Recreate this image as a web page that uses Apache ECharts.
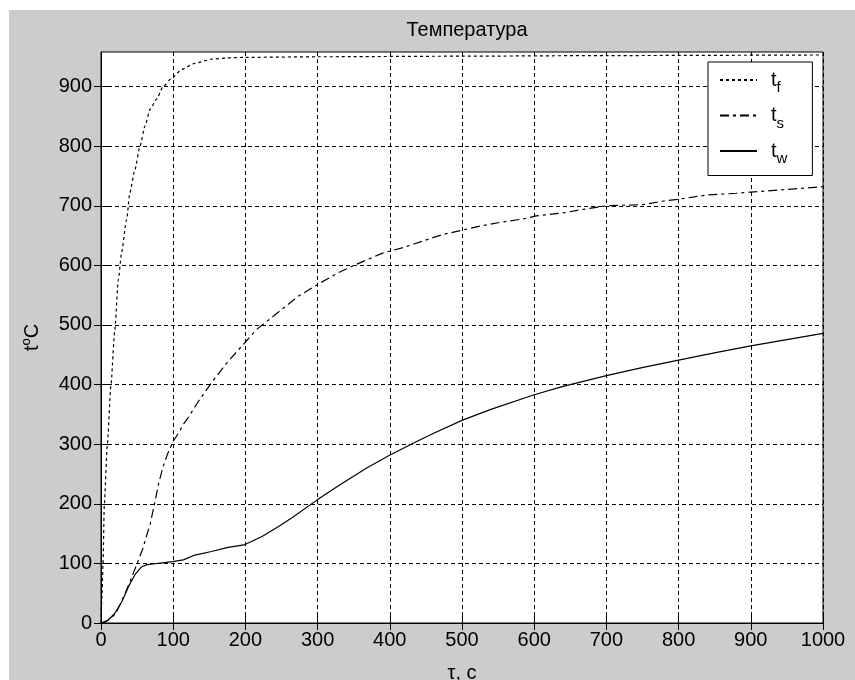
<!DOCTYPE html>
<html>
<head>
<meta charset="utf-8">
<script src="https://cdn.jsdelivr.net/npm/echarts@6/dist/echarts.min.js"></script>
<style>html,body{margin:0;padding:0;background:#fff;}#c{width:855px;height:680px;}</style>
</head>
<body>
<div id="c"></div>
<script>
// ---- data ----
var tfTime = [0, 1.5, 2.8, 4.6, 8.8, 13.8, 19, 24, 28.6, 35.5, 40, 47, 54, 61, 68, 77, 86, 98, 112, 130, 153, 175, 198, 300, 500, 700, 1000];
var tfTemp = [0, 50, 100, 200, 300, 400, 490, 576, 622, 677, 722, 761, 800, 834, 862, 879, 900, 914, 929, 939, 946, 948, 949, 950, 951, 952, 953];

var tsTime = [0, 10, 20, 28, 36, 43, 50, 58, 64, 68, 75, 80, 86, 92, 100, 107, 114, 121, 135, 153, 174, 199, 215, 239, 273, 300, 329, 354, 391, 419, 446, 474, 500, 525, 557, 585, 603, 640, 668, 700, 751, 779, 800, 839, 880, 900, 945, 1000];
var tsTemp = [0, 5, 15, 35, 57, 78, 100, 125, 150, 165, 205, 235, 262, 283, 305, 318, 333, 345, 372, 403, 436, 470, 492, 515, 548, 568, 588, 602, 621, 630, 641, 652, 659, 666, 673, 678, 683, 688, 694, 700, 702, 708, 711, 718, 721, 723, 727, 732];

var twTime = [0, 5, 10, 19, 29, 38, 47, 56, 64, 72, 85, 99, 114, 130, 153, 176, 198, 223, 246, 266, 300, 331, 368, 399, 433, 460, 500, 539, 600, 640, 700, 751, 800, 853, 900, 1000];
var twTemp = [0, 1, 5, 16, 36, 61, 81, 94, 98, 99, 101, 103, 106, 114, 120, 127, 131, 145, 162, 178, 207, 232, 260, 281, 302, 318, 340, 358, 383, 397, 415, 429, 441, 454, 465, 486];

var yTicks = [0, 100, 200, 300, 400, 500, 600, 700, 800, 900];
var seriesNames = ['tf', 'ts', 'tw'];
var titleText = 'Температура';
var xName = 'τ, c';

function zip(a, b) { return a.map(function (v, i) { return [v, b[i]]; }); }

var FONT = 'Liberation Sans';
var chart = echarts.init(document.getElementById('c'));

function axisBase(extra) {
  var o = {
    type: 'value',
    axisLine: { show: true, lineStyle: { color: '#000', width: 1 } },
    axisTick: { show: true, inside: true, length: 7, lineStyle: { color: '#000' } },
    axisLabel: { color: '#000', fontFamily: FONT, fontSize: 20 },
    splitLine: { show: false }
  };
  for (var k in extra) o[k] = extra[k];
  return o;
}

var gridLine = { show: true, lineStyle: { color: '#000', width: 1, type: [4, 3] } };
var yTick = { show: true, inside: true, length: 7, lineStyle: { color: '#000' }, customValues: yTicks };

chart.setOption({
  backgroundColor: '#fff',
  animation: false,
  graphic: {
    elements: [{ type: 'rect', z: -100, shape: { x: 9, y: 10, width: 846, height: 670 }, style: { fill: '#cccccc' }, silent: true }]
  },
  title: {
    text: titleText, left: 462, top: 15, textAlign: 'center',
    textStyle: { color: '#000', fontFamily: FONT, fontSize: 20, fontWeight: 'normal' }
  },
  grid: { left: 101, top: 52, right: 32, bottom: 57, show: true, backgroundColor: '#fff', borderColor: '#000', borderWidth: 1, containLabel: false, outerBoundsMode: 'none' },
  legend: {
    left: 708, top: 62, orient: 'vertical',
    padding: [8, 25, 9, 11],
    itemWidth: 37, itemHeight: 20, itemGap: 10,
    backgroundColor: '#fff', borderColor: '#000', borderWidth: 1,
    itemStyle: { opacity: 0 },
    data: seriesNames,
    formatter: function (n) { return '{t|t}{s|' + n.slice(1) + '}'; },
    textStyle: {
      color: '#000', fontFamily: FONT, fontSize: 20,
      rich: {
        t: { fontFamily: FONT, fontSize: 20, color: '#000', padding: [0, 0, 0, 9] },
        s: { fontFamily: FONT, fontSize: 15, color: '#000', padding: [16, 0, 0, 0] }
      }
    }
  },
  xAxis: [
    axisBase({
      min: 0, max: 1000, interval: 100, position: 'bottom',
      axisLabel: { color: '#000', fontFamily: FONT, fontSize: 20, margin: 7, formatter: function (v) { return String(v); } },
      splitLine: gridLine,
      name: xName, nameLocation: 'middle', nameGap: 40,
      nameTextStyle: { color: '#000', fontFamily: FONT, fontSize: 20 }
    }),
    axisBase({ min: 0, max: 1000, interval: 100, position: 'top', axisLine: { show: false }, axisLabel: { show: false } })
  ],
  yAxis: [
    axisBase({
      min: 0, max: 958, interval: 100, position: 'left',
      axisTick: yTick,
      axisLabel: { color: '#000', fontFamily: FONT, fontSize: 20, margin: 9, showMaxLabel: false, formatter: function (v) { return String(v); } },
      splitLine: gridLine,
      name: '{a|t}{b|o}{a|C}', nameLocation: 'middle', nameGap: 56,
      nameTextStyle: {
        color: '#000', fontFamily: FONT, fontSize: 20,
        rich: {
          a: { fontFamily: FONT, fontSize: 20, color: '#000' },
          b: { fontFamily: FONT, fontSize: 13, color: '#000', padding: [0, 0, 12, 0] }
        }
      }
    }),
    axisBase({ min: 0, max: 958, interval: 100, position: 'right', axisTick: yTick, axisLine: { show: false }, axisLabel: { show: false } })
  ],
  series: [
    { name: seriesNames[0], type: 'line', data: zip(tfTime, tfTemp), symbol: 'none', smooth: 0.2, smoothMonotone: 'x',
      lineStyle: { color: '#000', width: 1.2, type: [3, 3] }, itemStyle: { color: '#000' } },
    { name: seriesNames[1], type: 'line', data: zip(tsTime, tsTemp), symbol: 'none', smooth: false,
      lineStyle: { color: '#000', width: 1.2, type: [9, 4, 3, 4] }, itemStyle: { color: '#000' } },
    { name: seriesNames[2], type: 'line', data: zip(twTime, twTemp), symbol: 'none', smooth: false,
      lineStyle: { color: '#000', width: 1.2, type: 'solid' }, itemStyle: { color: '#000' } }
  ]
});
</script>
</body>
</html>
